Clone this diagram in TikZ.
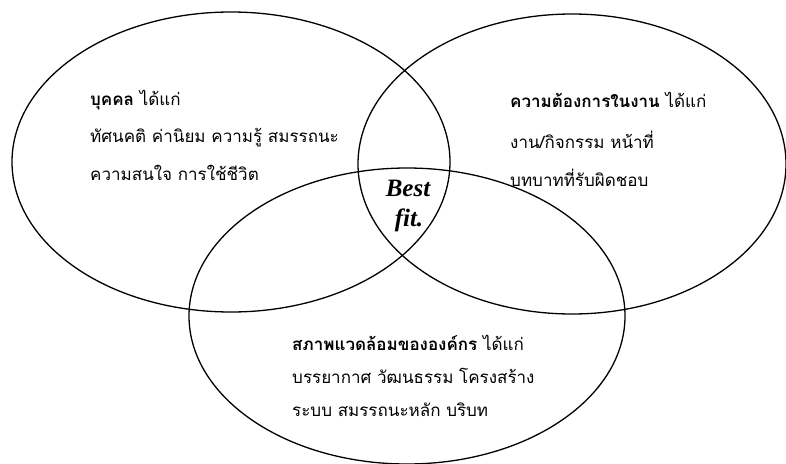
\documentclass[tikz,border=0pt]{standalone}
\usepackage{fontspec}
\newfontfamily\thaifont[Script=Thai]{Loma}
\setmainfont{Liberation Serif}
\tikzset{
  circ/.style={draw=black, line width=1.3pt},
  txt/.style={anchor=west, inner sep=0pt, font=\thaifont\fontsize{17}{19}\selectfont},
  bf/.style={inner sep=0pt, font=\bfseries\itshape\fontsize{25}{27}\selectfont}
}
\begin{document}
\begin{tikzpicture}[x=1pt,y=-1pt]
\useasboundingbox (0,0) rectangle (786,463);
\clip (0,0) rectangle (786,463);
\draw[circ] (231,162) ellipse [x radius=219, y radius=150];
\draw[circ] (572,164) ellipse [x radius=214, y radius=150];
\draw[circ] (407,316) ellipse [x radius=218, y radius=148];
% left
\node[txt] (a1) at (90,100) {\textbf{บุคคล} ได้แก่};
\node[txt] (a2) at (90,138) {ทัศนคติ ค่านิยม ความรู้ สมรรถนะ};
\node[txt] (a3) at (90,173) {ความสนใจ การใช้ชีวิต};
% right
\node[txt] (b1) at (510,100) {\textbf{ความต้องการในงาน} ได้แก่};
\node[txt] (b2) at (510,140) {งาน/กิจกรรม หน้าที่};
\node[txt] (b3) at (510,178) {บทบาทที่รับผิดชอบ};
% bottom
\node[txt] (c1) at (292,343) {\textbf{สภาพแวดล้อมขององค์กร} ได้แก่};
\node[txt] (c2) at (292,376) {บรรยากาศ วัฒนธรรม โครงสร้าง};
\node[txt] (c3) at (292,410) {ระบบ สมรรถนะหลัก บริบท};
% center
\node[bf] (m1) at (408,188) {Best};
\node[bf] (m2) at (409,220) {fit.};
\end{tikzpicture}
\end{document}
